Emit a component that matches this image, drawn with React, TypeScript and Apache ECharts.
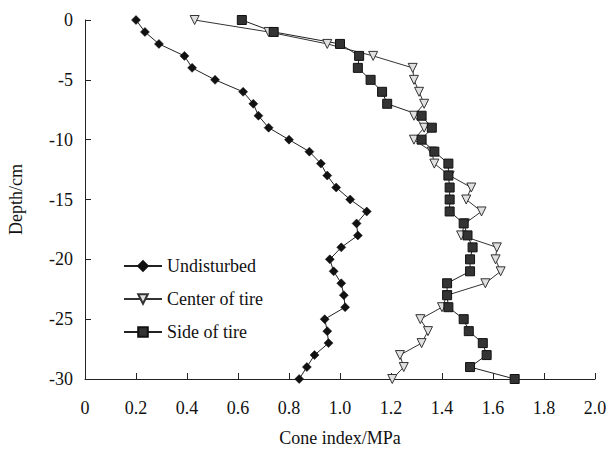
import React, { useEffect, useRef } from "react";
import * as echarts from "echarts";

const depths = [0, -1, -2, -3, -4, -5, -6, -7, -8, -9, -10, -11, -12, -13, -14, -15, -16, -17, -18, -19, -20, -21, -22, -23, -24, -25, -26, -27, -28, -29, -30];
const undisturbed = [0.20, 0.235, 0.29, 0.39, 0.42, 0.51, 0.62, 0.66, 0.68, 0.72, 0.80, 0.88, 0.925, 0.95, 0.985, 1.04, 1.105, 1.065, 1.07, 1.005, 0.96, 0.975, 1.005, 1.015, 1.02, 0.94, 0.95, 0.955, 0.90, 0.87, 0.84];
const centerOfTire = [0.43, 0.72, 0.95, 1.13, 1.285, 1.29, 1.31, 1.33, 1.29, 1.33, 1.29, 1.36, 1.37, 1.43, 1.515, 1.495, 1.555, 1.49, 1.475, 1.615, 1.61, 1.63, 1.57, 1.42, 1.40, 1.315, 1.345, 1.32, 1.235, 1.25, 1.205];
const sideOfTire = [0.615, 0.74, 1.0, 1.075, 1.07, 1.12, 1.165, 1.185, 1.32, 1.36, 1.32, 1.37, 1.425, 1.425, 1.43, 1.43, 1.43, 1.485, 1.50, 1.52, 1.51, 1.51, 1.42, 1.42, 1.425, 1.485, 1.505, 1.56, 1.575, 1.51, 1.685];
const seriesNames = ["Undisturbed", "Center of tire", "Side of tire"];

const FONT = "'Liberation Serif', 'Times New Roman', serif";

export default function App() {
  const ref = useRef<HTMLDivElement>(null);
  useEffect(() => {
    if (!ref.current) return;
    const chart = echarts.init(ref.current, undefined, { renderer: "svg" });
    const pair = (vals: number[]) => vals.map((v, i) => [v, depths[i]]);
    chart.setOption({
      animation: false,
      backgroundColor: "#ffffff",
      grid: { left: 85, top: 20, width: 510, height: 359, containLabel: false, outerBoundsMode: "none" },
      legend: {
        orient: "vertical",
        left: 118,
        top: 251,
        itemWidth: 38,
        itemHeight: 12,
        itemGap: 13,
        data: seriesNames,
        textStyle: { fontFamily: FONT, fontSize: 18, color: "#111", lineHeight: 20 },
      },
      xAxis: {
        type: "value",
        min: 0,
        max: 2,
        interval: 0.2,
        name: "Cone index/MPa",
        nameLocation: "middle",
        nameGap: 50,
        nameTextStyle: { fontFamily: FONT, fontSize: 18, color: "#111" },
        axisLine: { show: true, onZero: false, lineStyle: { color: "#222", width: 1 } },
        axisTick: { show: true, inside: true, length: 6, lineStyle: { color: "#222" } },
        axisLabel: {
          fontFamily: FONT,
          fontSize: 18,
          color: "#111",
          margin: 20,
          formatter: (v: number) => (v === 0 ? "0" : v.toFixed(1)),
        },
        splitLine: { show: false },
      },
      yAxis: {
        type: "value",
        min: -30,
        max: 0,
        interval: 5,
        name: "Depth/cm",
        nameLocation: "middle",
        nameRotate: 90,
        nameGap: 60,
        nameTextStyle: { fontFamily: FONT, fontSize: 18, color: "#111" },
        axisLine: { show: true, onZero: false, lineStyle: { color: "#222", width: 1 } },
        axisTick: { show: true, inside: true, length: 6, lineStyle: { color: "#222" } },
        axisLabel: { fontFamily: FONT, fontSize: 18, color: "#111", margin: 12 },
        splitLine: { show: false },
      },
      series: [
        {
          name: seriesNames[0],
          type: "line",
          data: pair(undisturbed),
          symbol: "diamond",
          symbolSize: 9,
          lineStyle: { color: "#222", width: 1 },
          itemStyle: { color: "#111", borderColor: "#111", borderWidth: 0.5 },
        },
        {
          name: seriesNames[1],
          type: "line",
          data: pair(centerOfTire),
          symbol: "triangle",
          symbolRotate: 180,
          symbolSize: 9,
          lineStyle: { color: "#333", width: 1 },
          itemStyle: { color: "#e0e0e0", borderColor: "#333", borderWidth: 1 },
        },
        {
          name: seriesNames[2],
          type: "line",
          data: pair(sideOfTire),
          symbol: "rect",
          symbolSize: 9,
          lineStyle: { color: "#222", width: 1 },
          itemStyle: { color: "#333", borderColor: "#111", borderWidth: 1 },
        },
      ],
    });
    return () => chart.dispose();
  }, []);
  return <div ref={ref} style={{ position: "fixed", left: 0, top: 0, width: 608, height: 450 }} />;
}
